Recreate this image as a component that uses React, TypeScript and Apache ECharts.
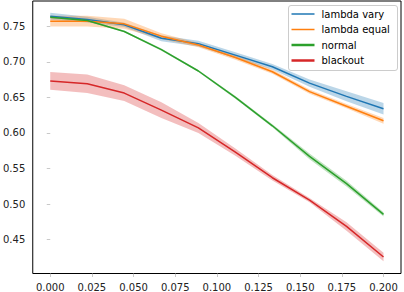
import React, { useEffect, useRef } from "react";
import * as echarts from "echarts";

// ---- data ----
const xValues = [0, 0.0222, 0.0444, 0.0667, 0.0889, 0.1111, 0.1333, 0.1556, 0.1778, 0.2];

const lambdaVaryMean = [0.764, 0.7593, 0.752, 0.733, 0.7255, 0.7093, 0.693, 0.670, 0.6514, 0.634];
const lambdaVaryCi = [0.005, 0.004, 0.003, 0.004, 0.004, 0.004, 0.004, 0.005, 0.007, 0.008];

const lambdaEqualMean = [0.757, 0.757, 0.7533, 0.736, 0.7235, 0.706, 0.686, 0.658, 0.6375, 0.617];
const lambdaEqualCi = [0.0075, 0.0075, 0.007, 0.004, 0.003, 0.003, 0.003, 0.003, 0.003, 0.004];

const normalMean = [0.7625, 0.758, 0.7426, 0.717, 0.687, 0.65, 0.61, 0.567, 0.5288, 0.4856];
const normalCi = [0.001, 0.001, 0.0012, 0.0015, 0.0015, 0.002, 0.002, 0.004, 0.004, 0.003];

const blackoutMean = [0.673, 0.669, 0.656, 0.632, 0.607, 0.573, 0.537, 0.5056, 0.4686, 0.4256];
const blackoutCi = [0.0125, 0.013, 0.011, 0.011, 0.007, 0.005, 0.004, 0.003, 0.006, 0.006];

const seriesNames = ["lambda vary", "lambda equal", "normal", "blackout"];
const seriesColors = ["#1f77b4", "#ff7f0e", "#2ca02c", "#d62728"];

const xTicks = [0, 0.025, 0.05, 0.075, 0.1, 0.125, 0.15, 0.175, 0.2];
const yTicks = [0.45, 0.5, 0.55, 0.6, 0.65, 0.7, 0.75];

const FONT = "DejaVu Sans";

function buildSeries() {
  const means = [lambdaVaryMean, lambdaEqualMean, normalMean, blackoutMean];
  const cis = [lambdaVaryCi, lambdaEqualCi, normalCi, blackoutCi];
  const out: any[] = [];
  means.forEach((m, i) => {
    const ci = cis[i];
    const bandData = xValues.map((x, k) => [x, m[k] - ci[k], m[k] + ci[k]]);
    out.push({
      name: seriesNames[i] + " band",
      type: "custom",
      silent: true,
      encode: { x: 0, y: [1, 2] },
      data: bandData,
      renderItem: (params: any, api: any) => {
        if (params.dataIndex !== 0) return null;
        const upper = bandData.map((d) => api.coord([d[0], d[2]]));
        const lower = bandData.map((d) => api.coord([d[0], d[1]])).reverse();
        return {
          type: "polygon",
          shape: { points: upper.concat(lower) },
          style: { fill: seriesColors[i], opacity: 0.3 },
        };
      },
    });
    out.push({
      name: seriesNames[i],
      type: "line",
      symbol: "none",
      color: seriesColors[i],
      lineStyle: { color: seriesColors[i], width: 1.5 },
      data: xValues.map((x, k) => [x, m[k]]),
    });
  });
  return out;
}

export default function App() {
  const ref = useRef<HTMLDivElement>(null);
  useEffect(() => {
    if (!ref.current) return;
    const chart = echarts.init(ref.current, undefined, { renderer: "svg" });
    const legendCommon = {
      orient: "vertical",
      left: 291.5,
      padding: 0,
      itemWidth: 23,
      icon: "rect",
      itemGap: 3.5,
      selectedMode: false,
      z: 20,
      textStyle: { fontFamily: FONT, fontSize: 10, color: "#000", lineHeight: 12, padding: [0, 0, 0, 2] },
    };
    chart.setOption({
      animation: false,
      backgroundColor: "#fff",
      grid: {
        left: 30.5,
        right: 3,
        top: 1,
        bottom: 16,
        show: true,
        borderColor: "#000",
        borderWidth: 1,
        backgroundColor: "transparent",
      },
      xAxis: {
        type: "value",
        min: -0.0105,
        max: 0.2105,
        splitLine: { show: false },
        axisLine: { show: false },
        axisTick: { show: true, length: 3.5, lineStyle: { color: "#bbb", width: 0.8 }, customValues: xTicks },
        axisLabel: {
          customValues: xTicks,
          margin: 8.5,
          fontFamily: FONT,
          fontSize: 10,
          color: "#222",
          formatter: (v: number) => v.toFixed(3),
        },
      },
      yAxis: {
        type: "value",
        min: 0.4024,
        max: 0.7854,
        splitLine: { show: false },
        axisLine: { show: false },
        axisTick: { show: true, length: 3.5, lineStyle: { color: "#bbb", width: 0.8 }, customValues: yTicks },
        axisLabel: {
          customValues: yTicks,
          margin: 7.5,
          fontFamily: FONT,
          fontSize: 10,
          color: "#222",
          formatter: (v: number) => v.toFixed(2),
        },
      },
      graphic: [
        {
          type: "rect",
          z: 15,
          shape: { x: 288.5, y: 5.5, width: 109, height: 65, r: 2.5 },
          style: { fill: "rgba(255,255,255,0.8)", stroke: "#cccccc", lineWidth: 1 },
        },
      ],
      legend: [
        {
          ...legendCommon,
          top: 8,
          itemHeight: 1.5,
          data: [seriesNames[0], seriesNames[1]],
        },
        {
          ...legendCommon,
          top: 39,
          itemHeight: 2.5,
          data: [seriesNames[2], seriesNames[3]],
        },
      ],
      series: buildSeries(),
    });
    return () => chart.dispose();
  }, []);
  return (
    <div
      ref={ref}
      style={{ position: "fixed", left: 0, top: 0, width: 404, height: 292 }}
    />
  );
}
